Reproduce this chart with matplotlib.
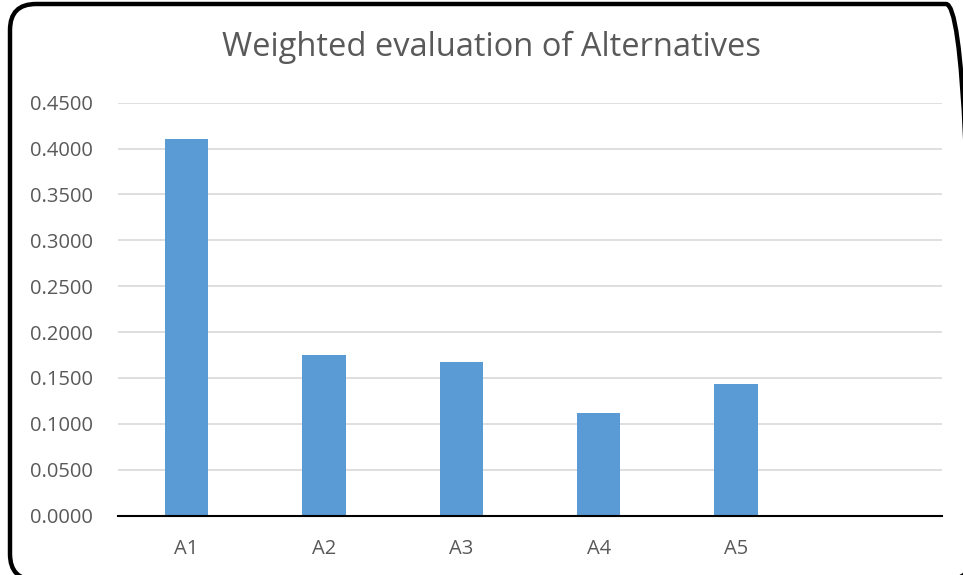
import matplotlib.pyplot as plt
from matplotlib.patches import FancyBboxPatch
from matplotlib.transforms import IdentityTransform

plt.rcParams['font.family'] = ['Open Sans', 'DejaVu Sans']

# data
categories = ['A1', 'A2', 'A3', 'A4', 'A5', '']
values = [0.4109, 0.1753, 0.1669, 0.1120, 0.1437]
yticks = [0.0, 0.05, 0.10, 0.15, 0.20, 0.25, 0.30, 0.35, 0.40, 0.45]

W, H = 963, 575
fig = plt.figure(figsize=(W / 100, H / 100), dpi=100)
ax = fig.add_axes([118/W, 1 - 515.5/H, (942-118)/W, (515.5-102.7)/H])

ax.bar(range(len(values)), values, width=0.315, color='#5B9BD5', zorder=3)

ax.set_xlim(-0.5, len(categories) - 0.5)
ax.set_ylim(0, 0.45)
ax.set_yticks(yticks)
ax.set_yticklabels(['%.4f' % v for v in yticks])
ax.set_xticks(range(len(categories)))
ax.set_xticklabels(categories)
ax.tick_params(axis='both', length=0, labelsize=14.5, colors='#595959')
ax.tick_params(axis='y', pad=18)
ax.tick_params(axis='x', pad=17)
ax.grid(axis='y', color='#D9D9D9', lw=1.2, zorder=0)
for s in ['top', 'right', 'left']:
    ax.spines[s].set_visible(False)
ax.spines['bottom'].set_color('#000000')
ax.spines['bottom'].set_linewidth(1.5)
ax.spines['bottom'].set_zorder(4)

fig.text(491/W, 1 - 47/H, 'Weighted evaluation of Alternatives',
         ha='center', va='center', fontsize=23.5, color='#595959')

# rounded frame in pixel (display) coordinates, origin bottom-left
frame = FancyBboxPatch((10, H - 580), 962, 576,
                       boxstyle='round,pad=0,rounding_size=26',
                       fill=False, ec='black', lw=3.2,
                       transform=IdentityTransform())
fig.add_artist(frame)

fig.savefig('out.png', dpi=100)
